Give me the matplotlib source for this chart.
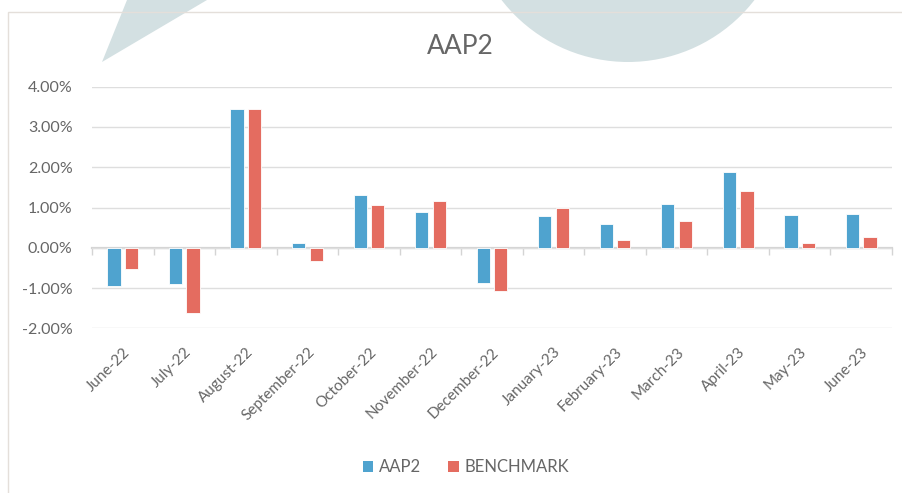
import numpy as np
import matplotlib
matplotlib.use("Agg")
import matplotlib.pyplot as plt
from matplotlib.patches import Polygon, Ellipse, Rectangle, Patch

plt.rcParams['font.family'] = ['Lato', 'DejaVu Sans']

months = ["June-22", "July-22", "August-22", "September-22", "October-22", "November-22",
          "December-22", "January-23", "February-23", "March-23", "April-23", "May-23", "June-23"]
aap2 = [-0.95, -0.91, 3.45, 0.11, 1.32, 0.89, -0.87, 0.78, 0.58, 1.09, 1.88, 0.81, 0.85]
benchmark = [-0.53, -1.63, 3.45, -0.33, 1.05, 1.17, -1.07, 0.98, 0.19, 0.66, 1.40, 0.11, 0.26]
yticks = [-2, -1, 0, 1, 2, 3, 4]
series_names = ["AAP2", "BENCHMARK"]

blue = "#4FA3CF"
red = "#E46C60"
txt = "#666666"

W, H = 903, 493
fig = plt.figure(figsize=(W / 100, H / 100), dpi=100)


def fx(px):
    return px / W


def fy(py):
    return 1 - py / H


# background watermark shapes & chart border
wm = "#d3e0e2"
fig.patches.append(Polygon([(fx(102), fy(62)), (fx(127), fy(0)), (fx(207), fy(0))],
                           closed=True, transform=fig.transFigure, facecolor=wm,
                           edgecolor='none', zorder=0))
fig.patches.append(Ellipse((fx(628), fy(-98)), 2 * 160 / W, 2 * 160 / H,
                           transform=fig.transFigure, facecolor=wm, edgecolor='none', zorder=0))
fig.patches.append(Rectangle((fx(7.5), fy(H + 5)), 1.2, fy(12) - fy(H + 5),
                             transform=fig.transFigure, facecolor='none',
                             edgecolor='#e4dfda', lw=1.0, zorder=1))

ax = fig.add_axes([fx(92), fy(328.3), fx(892) - fx(92), fy(86.7) - fy(328.3)])
ax.set_facecolor('none')

x = np.arange(len(months))
bw = 0.215
off = 0.142
ax.bar(x - off, aap2, width=bw, color=blue, edgecolor='white', linewidth=0.6, zorder=3,
       label=series_names[0])
ax.bar(x + off, benchmark, width=bw, color=red, edgecolor='white', linewidth=0.6, zorder=3,
       label=series_names[1])

ymin, ymax = min(yticks), max(yticks)
ax.set_ylim(ymin, ymax)
ax.set_xlim(-0.5, len(months) - 0.5)
ax.set_yticks(yticks)
ax.set_yticklabels([f"{v:.2f}%" for v in yticks], color=txt, fontsize=11.5)
ax.yaxis.grid(True, color='#dedede', lw=1.0, zorder=0)
ax.tick_params(axis='y', length=0, pad=14)
for s in ax.spines.values():
    s.set_visible(False)

# category labels
ax.set_xticks(x)
ax.set_xticklabels(months, rotation=45, ha='right', va='top', rotation_mode='anchor',
                   color=txt, fontsize=11)
ax.tick_params(axis='x', length=0, pad=12)

# zero axis with boundary tick marks
zero_loc = (0 - ymin) / (ymax - ymin)
sec = ax.secondary_xaxis(zero_loc)
sec.set_xticks(np.arange(len(months) + 1) - 0.5)
sec.set_xticklabels([])
sec.tick_params(axis='x', direction='out', length=5, width=1.0, color='#d4d4d4')
sec.spines['bottom'].set_color('#d4d4d4')
sec.spines['bottom'].set_linewidth(1.6)
sec.spines['bottom'].set_zorder(4)

fig.text(fx(460), fy(47), "AAP2", ha='center', va='center', fontsize=19, color=txt)

handles = [Patch(facecolor=blue, label=series_names[0]), Patch(facecolor=red, label=series_names[1])]
leg = fig.legend(handles=handles, loc='center', bbox_to_anchor=(fx(466), fy(467)), ncol=2,
                 frameon=False, fontsize=12, handlelength=0.65, handleheight=0.65,
                 handletextpad=0.35, columnspacing=1.6, labelcolor=txt)

fig.savefig("out.png", dpi=100)
